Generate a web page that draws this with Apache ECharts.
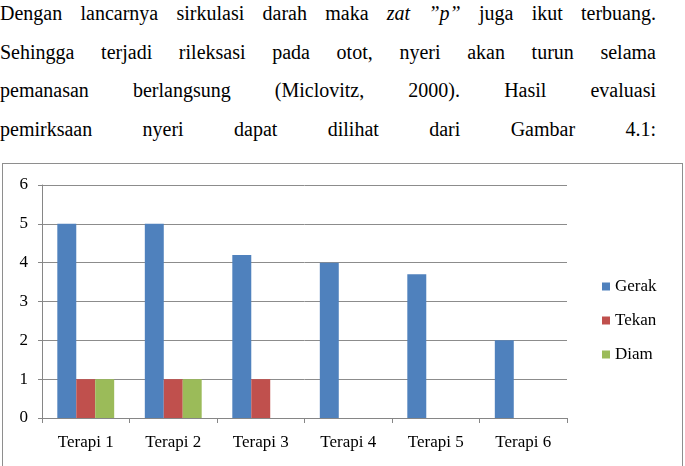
<!DOCTYPE html>
<html>
<head>
<meta charset="utf-8">
<script src="https://cdn.jsdelivr.net/npm/echarts@6/dist/echarts.min.js"></script>
<style>
  body { margin: 0; background: #fff; width: 685px; height: 466px; overflow: hidden; position: relative; }
  #text { position: absolute; left: 0; top: 0; width: 656px; font-family: "Liberation Serif", "Times New Roman", "DejaVu Serif", serif; font-size: 20px; color: #000; }
  #text div { height: 38.7px; line-height: 26px; text-align: justify; text-align-last: justify; white-space: nowrap; }
  #chart { position: absolute; left: 2px; top: 163px; width: 679px; height: 320px; border: 1px solid #8e8e8e; background: #fff; }
</style>
</head>
<body>
<div id="text">
  <div>Dengan lancarnya sirkulasi darah maka <i>zat ”p”</i> juga ikut terbuang.</div>
  <div>Sehingga terjadi rileksasi pada otot, nyeri akan turun selama</div>
  <div>pemanasan berlangsung (Miclovitz, 2000). Hasil evaluasi</div>
  <div>pemirksaan nyeri dapat dilihat dari Gambar 4.1:</div>
</div>
<div id="chart"></div>
<script>
const categories = ["Terapi 1", "Terapi 2", "Terapi 3", "Terapi 4", "Terapi 5", "Terapi 6"];
const gerak = [5, 5, 4.2, 4, 3.7, 2];
const tekan = [1, 1, 1, 0, 0, 0];
const diam = [1, 1, 0, 0, 0, 0];
const yTicks = [0, 1, 2, 3, 4, 5, 6];

const chart = echarts.init(document.getElementById("chart"));
const font = "'Liberation Serif', 'Times New Roman', 'DejaVu Serif', serif";

chart.setOption({
  animation: false,
  grid: { left: 39, top: 21, width: 525, height: 233, containLabel: false },
  legend: {
    orient: "vertical",
    left: 594,
    top: 109,
    itemWidth: 8,
    itemHeight: 8,
    itemGap: 17,
    icon: "rect",
    textStyle: { fontFamily: font, fontSize: 17, color: "#000", lineHeight: 17 },
    data: ["Gerak", "Tekan", "Diam"]
  },
  xAxis: {
    type: "category",
    data: categories,
    axisLine: { lineStyle: { color: "#868686", width: 1 } },
    axisTick: { show: true, length: 5, lineStyle: { color: "#868686" } },
    axisLabel: { fontFamily: font, fontSize: 17, color: "#000", margin: 16 }
  },
  yAxis: {
    type: "value",
    min: yTicks[0],
    max: yTicks[yTicks.length - 1],
    interval: 1,
    axisLine: { show: true, lineStyle: { color: "#868686" } },
    axisTick: { show: true, length: 4, lineStyle: { color: "#868686" } },
    axisLabel: { fontFamily: font, fontSize: 17, color: "#000", margin: 14 },
    splitLine: { lineStyle: { color: "#8c8c8c", width: 1 } }
  },
  series: [
    { name: "Gerak", type: "bar", data: gerak, itemStyle: { color: "#4F81BD" }, barGap: "0%", barCategoryGap: "35%" },
    { name: "Tekan", type: "bar", data: tekan, itemStyle: { color: "#C0504D" } },
    { name: "Diam", type: "bar", data: diam, itemStyle: { color: "#9BBB59" } }
  ]
});
</script>
</body>
</html>
